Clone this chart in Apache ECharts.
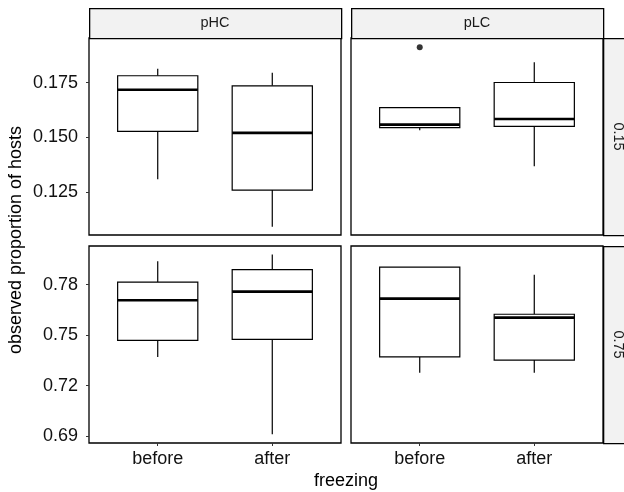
<!DOCTYPE html>
<html><head><meta charset="utf-8">
<script src="https://cdn.jsdelivr.net/npm/echarts@6/dist/echarts.min.js"></script>
<style>html,body{margin:0;padding:0;background:#fff}#c{width:624px;height:492px}</style>
</head><body><div id="c"></div>
<script>
// ---- data ----
const categories = ['before', 'after'];
const colFacets = ['pHC', 'pLC'];
const rowFacets = ['0.15', '0.75'];
// each row: [min, q1, median, q3, max] for 'before', 'after'
const pHC_015 = [[0.1307, 0.1527, 0.1718, 0.1782, 0.1814], [0.1090, 0.1258, 0.1520, 0.1736, 0.1796]];
const pLC_015 = [[0.1532, 0.1544, 0.1558, 0.1636, 0.1638], [0.1367, 0.1550, 0.1584, 0.1751, 0.1844]];
const pHC_075 = [[0.7371, 0.7469, 0.7707, 0.7815, 0.7938], [0.6912, 0.7475, 0.7758, 0.7889, 0.7978]];
const pLC_075 = [[0.7277, 0.7371, 0.7717, 0.7904, 0.7904], [0.7277, 0.7352, 0.7604, 0.7624, 0.7859]];
const outliers_pLC_015 = [[1, 0.1913]];
const yTicksTop = [0.125, 0.150, 0.175];
const yTicksBottom = [0.69, 0.72, 0.75, 0.78];
const xTicks = [1, 2];

// ---- layout ----
const FONT = 'Liberation Sans, Arial, Helvetica, sans-serif';
const colLeft = [89, 351], colW = 252;
const rowTop = [38, 246], rowH = 197;
const yRange = [[0.1052, 0.1955], [0.686, 0.8029]];
const panels = [
  {r: 0, c: 0, d: pHC_015},
  {r: 0, c: 1, d: pLC_015},
  {r: 1, c: 0, d: pHC_075},
  {r: 1, c: 1, d: pLC_075}
];

const grids = [], xAxes = [], yAxes = [], series = [];
panels.forEach((p, i) => {
  grids.push({left: colLeft[p.c], top: rowTop[p.r], width: colW, height: rowH,
    show: true, borderColor: '#000', borderWidth: 1.3, backgroundColor: '#fff'});
  const showX = p.r === 1, showY = p.c === 0;
  xAxes.push({type: 'value', gridIndex: i, min: 0.4, max: 2.6,
    axisLine: {show: false}, splitLine: {show: false},
    axisTick: {show: showX, length: 3, lineStyle: {color: '#333'}, customValues: xTicks},
    axisLabel: {show: showX, customValues: xTicks, margin: 7, color: '#111', fontSize: 18, fontFamily: FONT,
      formatter: v => categories[Math.round(v) - 1]}
  });
  const ticks = p.r === 0 ? yTicksTop : yTicksBottom;
  yAxes.push({type: 'value', gridIndex: i, min: yRange[p.r][0], max: yRange[p.r][1],
    axisLine: {show: false}, splitLine: {show: false},
    axisTick: {show: showY, length: 3, lineStyle: {color: '#333'}, customValues: ticks},
    axisLabel: {show: showY, customValues: ticks, margin: 11, color: '#111', fontSize: 18, fontFamily: FONT,
      formatter: v => v.toFixed(p.r === 0 ? 3 : 2)}
  });
  series.push({
    type: 'custom', xAxisIndex: i, yAxisIndex: i,
    data: p.d.map((b, k) => [k + 1].concat(b)),
    encode: {x: 0, y: [1, 2, 3, 4, 5]},
    renderItem: function (params, api) {
      const x = api.value(0);
      const pMin = api.coord([x, api.value(1)]);
      const pQ1 = api.coord([x, api.value(2)]);
      const pMd = api.coord([x, api.value(3)]);
      const pQ3 = api.coord([x, api.value(4)]);
      const pMax = api.coord([x, api.value(5)]);
      const w = api.size([0.7, 0])[0];
      const cx = pMd[0], left = cx - w / 2;
      const st = {stroke: '#000', lineWidth: 1.2};
      return {type: 'group', children: [
        {type: 'line', shape: {x1: cx, y1: pMax[1], x2: cx, y2: pQ3[1]}, style: st},
        {type: 'line', shape: {x1: cx, y1: pQ1[1], x2: cx, y2: pMin[1]}, style: st},
        {type: 'rect', shape: {x: left, y: pQ3[1], width: w, height: pQ1[1] - pQ3[1]},
          style: {fill: '#fff', stroke: '#000', lineWidth: 1.2}},
        {type: 'line', shape: {x1: left, y1: pMd[1], x2: left + w, y2: pMd[1]},
          style: {stroke: '#000', lineWidth: 2.6}}
      ]};
    }
  });
});
series.push({type: 'scatter', xAxisIndex: 1, yAxisIndex: 1, data: outliers_pLC_015,
  symbolSize: 6, itemStyle: {color: '#000'}, silent: true});

const graphics = [];
colFacets.forEach((name, c) => {
  graphics.push({type: 'rect', left: colLeft[c], top: 8, z: 10,
    shape: {width: colW, height: 30}, style: {fill: '#F2F2F2', stroke: '#000', lineWidth: 1.3}});
  graphics.push({type: 'text', x: colLeft[c] + colW / 2, y: 23, z: 11,
    style: {text: name, fill: '#1a1a1a', font: '14.5px ' + FONT, align: 'center', verticalAlign: 'middle'}});
});
rowFacets.forEach((name, r) => {
  graphics.push({type: 'rect', left: 603, top: rowTop[r], z: 10,
    shape: {width: 30, height: rowH}, style: {fill: '#F2F2F2', stroke: '#000', lineWidth: 1.3}});
  graphics.push({type: 'text', x: 618, y: rowTop[r] + rowH / 2, rotation: -Math.PI / 2, z: 11,
    style: {text: name, fill: '#1a1a1a', font: '14.5px ' + FONT, align: 'center', verticalAlign: 'middle'}});
});
graphics.push({type: 'text', x: 16, y: 240, rotation: Math.PI / 2, z: 11,
  style: {text: 'observed proportion of hosts', fill: '#000', font: '18px ' + FONT, align: 'center', verticalAlign: 'middle'}});
graphics.push({type: 'text', x: 346, y: 481, z: 11,
  style: {text: 'freezing', fill: '#000', font: '18px ' + FONT, align: 'center', verticalAlign: 'middle'}});

const chart = echarts.init(document.getElementById('c'), null, {renderer: 'canvas'});
chart.setOption({
  animation: false,
  backgroundColor: '#fff',
  grid: grids, xAxis: xAxes, yAxis: yAxes, series: series, graphic: graphics
});
</script></body></html>
